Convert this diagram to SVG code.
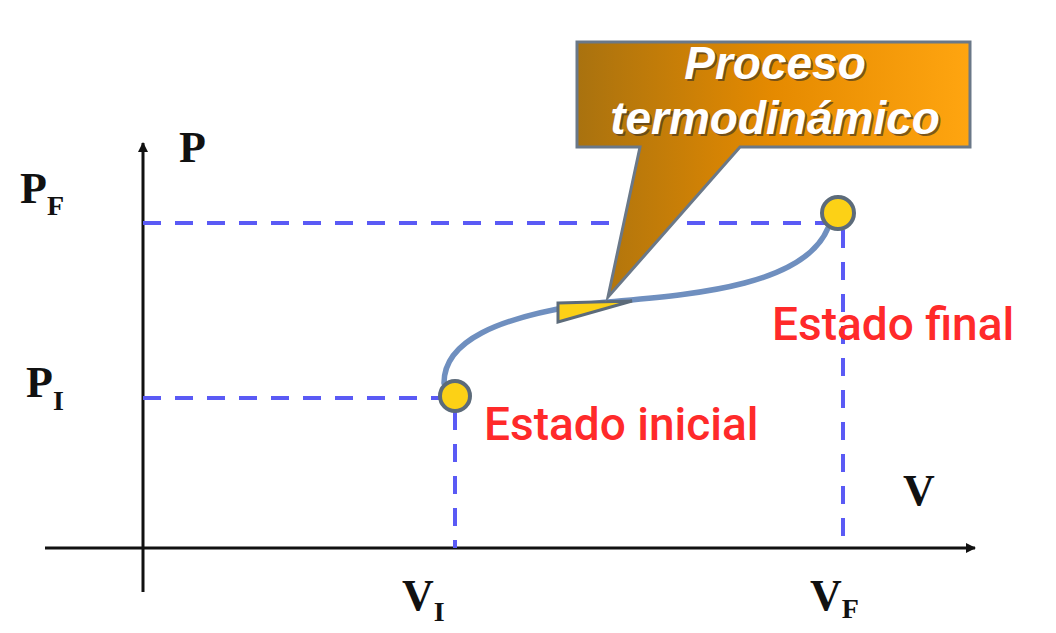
<svg xmlns="http://www.w3.org/2000/svg" width="1056" height="633" viewBox="0 0 1056 633">
<style>
.axis{stroke:#111;stroke-width:3;fill:none}
.dash{stroke:#5a5af5;stroke-width:4;stroke-dasharray:18 14;fill:none}
.curve{stroke:#6f8fbf;stroke-width:5.5;fill:none;stroke-linecap:round}
.pt{fill:#fcd116;stroke:#5c6b7a;stroke-width:4}
.lbl{font-family:"Liberation Serif",serif;font-weight:bold;fill:#111}
.red{font-family:Roboto,"Liberation Sans",sans-serif;font-size:46px;font-weight:500;fill:#ff2a2a}
.ct{font-family:"Liberation Sans",Arial,sans-serif;font-weight:bold;font-style:italic;font-size:46px;text-anchor:middle}
</style>
<defs>
<marker id="ah" markerWidth="10" markerHeight="10" refX="9" refY="5" orient="auto" markerUnits="userSpaceOnUse">
<path d="M0,0 L10,5 L0,10 Z" fill="#111"/>
</marker>
<linearGradient id="og" x1="0" y1="0" x2="1" y2="0">
<stop offset="0" stop-color="#a9720f"/>
<stop offset="0.5" stop-color="#e58a00"/>
<stop offset="1" stop-color="#ffa510"/>
</linearGradient>
</defs>
<rect width="1056" height="633" fill="#fff"/>
<g id="axes">
<line class="axis" x1="143" y1="592" x2="143" y2="143" marker-end="url(#ah)"/>
<line class="axis" x1="45" y1="548" x2="975" y2="548" marker-end="url(#ah)"/>
</g>
<g id="connectors">
<line class="dash" x1="143" y1="223" x2="828" y2="223"/>
<line class="dash" x1="143" y1="398" x2="440" y2="398"/>
<line class="dash" x1="455" y1="412" x2="455" y2="548"/>
<line class="dash" x1="843" y1="230" x2="843" y2="548"/>
<path class="curve" d="M444,383 C444,340 500,318 580,305 C650,296 800,296 828,228"/>
<path d="M558,303 L632,301 L558,322 Z" fill="#fcd116" stroke="#5c6b7a" stroke-width="3" stroke-linejoin="miter"/>
</g>
<g id="callout">
<path d="M577,42 H970 V147 H740 L608,297 L640,147 H577 Z" fill="url(#og)" stroke="#6a7888" stroke-width="3" stroke-linejoin="miter"/>
<text class="ct" x="777" y="81" fill="#4a3a20" opacity="0.7">Proceso</text>
<text class="ct" x="775" y="79" fill="#fff">Proceso</text>
<text class="ct" x="777" y="136" fill="#4a3a20" opacity="0.7">termodinámico</text>
<text class="ct" x="775" y="134" fill="#fff">termodinámico</text>
</g>
<g id="estado-inicial">
<circle class="pt" cx="455" cy="396" r="15"/>
<text class="red" x="484" y="440">Estado inicial</text>
</g>
<g id="estado-final">
<circle class="pt" cx="838" cy="213" r="16"/>
<text class="red" x="772" y="340">Estado final</text>
</g>
<g id="labels">
<text class="lbl" x="179" y="162" font-size="44">P</text>
<text class="lbl" x="20" y="203" font-size="44">P<tspan font-size="28" dy="12">F</tspan></text>
<text class="lbl" x="26" y="397" font-size="44">P<tspan font-size="28" dy="13">I</tspan></text>
<text class="lbl" x="903" y="505" font-size="44">V</text>
<text class="lbl" x="402" y="610" font-size="44">V<tspan font-size="28" dy="11">I</tspan></text>
<text class="lbl" x="810" y="610" font-size="44">V<tspan font-size="28" dy="8">F</tspan></text>
</g>
</svg>
